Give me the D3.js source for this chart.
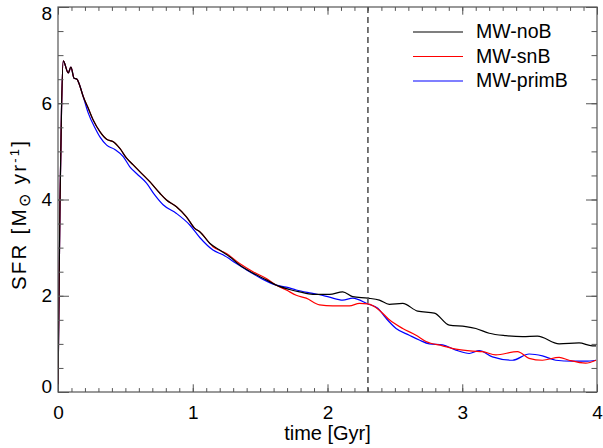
<!DOCTYPE html>
<html>
<head>
<meta charset="utf-8">
<script src="https://cdn.jsdelivr.net/npm/d3@7"></script>
<style>
  html, body { margin: 0; padding: 0; background: #fff; }
  svg { display: block; }
  text { font-family: "Liberation Sans", Arial, Helvetica, sans-serif; fill: #000; }
</style>
</head>
<body>
<script>
// Star formation rate histories for the three Milky Way runs
const seriesNames = ["MW-noB", "MW-snB", "MW-primB"];
const seriesColors = ["#000000", "#ff0000", "#0000ff"];

const tNoB = [0, 0.007, 0.015, 0.026, 0.039, 0.076, 0.096, 0.119, 0.141, 0.156, 0.187, 0.224, 0.261, 0.311, 0.361, 0.410, 0.459, 0.509, 0.558, 0.607, 0.681, 0.756, 0.805, 0.879, 0.953, 1.015, 1.052, 1.126, 1.200, 1.274, 1.348, 1.447, 1.546, 1.620, 1.719, 1.793, 1.891, 2.015, 2.113, 2.187, 2.299, 2.385, 2.459, 2.558, 2.669, 2.793, 2.904, 3.027, 3.101, 3.200, 3.324, 3.447, 3.558, 3.719, 3.867, 3.965, 3.993];
const sfrNoB = [0, 1.91, 3.99, 5.86, 6.88, 6.63, 6.75, 6.52, 6.50, 6.41, 6.14, 5.90, 5.65, 5.41, 5.25, 5.20, 5.06, 4.86, 4.72, 4.58, 4.37, 4.13, 3.99, 3.85, 3.64, 3.40, 3.33, 3.09, 2.95, 2.81, 2.64, 2.47, 2.33, 2.22, 2.13, 2.08, 2.03, 2.03, 2.08, 1.98, 1.95, 1.91, 1.82, 1.84, 1.68, 1.64, 1.39, 1.36, 1.32, 1.22, 1.17, 1.15, 1.16, 1.00, 1.02, 0.96, 0.96];

const tSnB = [0, 0.007, 0.015, 0.026, 0.039, 0.076, 0.096, 0.119, 0.141, 0.156, 0.187, 0.224, 0.261, 0.311, 0.361, 0.410, 0.459, 0.509, 0.558, 0.607, 0.681, 0.756, 0.805, 0.879, 0.953, 1.015, 1.052, 1.150, 1.250, 1.348, 1.447, 1.546, 1.620, 1.694, 1.768, 1.842, 1.941, 2.039, 2.163, 2.237, 2.299, 2.385, 2.459, 2.558, 2.657, 2.731, 2.854, 2.953, 3.076, 3.150, 3.249, 3.410, 3.496, 3.595, 3.719, 3.793, 3.916, 3.993];
const sfrSnB = [0, 1.91, 3.99, 5.86, 6.88, 6.63, 6.75, 6.52, 6.50, 6.41, 6.14, 5.90, 5.65, 5.41, 5.25, 5.20, 5.06, 4.86, 4.72, 4.58, 4.37, 4.13, 3.99, 3.85, 3.64, 3.40, 3.33, 3.02, 2.88, 2.67, 2.50, 2.36, 2.22, 2.12, 2.01, 1.95, 1.81, 1.79, 1.79, 1.84, 1.83, 1.70, 1.50, 1.32, 1.18, 1.05, 0.96, 0.89, 0.85, 0.84, 0.77, 0.84, 0.70, 0.66, 0.72, 0.66, 0.60, 0.66];

const tPrimB = [0, 0.007, 0.015, 0.026, 0.039, 0.076, 0.096, 0.119, 0.141, 0.156, 0.187, 0.224, 0.274, 0.311, 0.361, 0.422, 0.484, 0.533, 0.583, 0.657, 0.719, 0.780, 0.879, 0.978, 1.052, 1.150, 1.224, 1.324, 1.422, 1.521, 1.620, 1.694, 1.768, 1.867, 1.941, 2.015, 2.113, 2.187, 2.299, 2.373, 2.435, 2.509, 2.607, 2.681, 2.756, 2.854, 2.953, 3.052, 3.126, 3.224, 3.373, 3.496, 3.595, 3.694, 3.817, 3.916, 3.993];
const sfrPrimB = [0, 1.91, 3.99, 5.86, 6.88, 6.63, 6.75, 6.52, 6.50, 6.41, 6.14, 5.80, 5.49, 5.30, 5.13, 5.04, 4.89, 4.68, 4.54, 4.34, 4.09, 3.89, 3.71, 3.47, 3.21, 2.95, 2.85, 2.67, 2.50, 2.34, 2.22, 2.18, 2.12, 2.06, 2.02, 1.97, 1.91, 1.95, 1.83, 1.74, 1.53, 1.32, 1.18, 1.08, 1.00, 0.98, 0.87, 0.80, 0.86, 0.73, 0.66, 0.79, 0.75, 0.66, 0.64, 0.64, 0.66];

const xTicks = [0, 1, 2, 3, 4];
const yTicks = [0, 2, 4, 6, 8];
const markerTime = 2.3;

const W = 603, H = 448;
const margin = { top: 7, right: 6, bottom: 56, left: 58 };
const iw = W - margin.left - margin.right;
const ih = H - margin.top - margin.bottom;

const svg = d3.select("body").append("svg").attr("width", W).attr("height", H);
const g = svg.append("g").attr("transform", `translate(${margin.left},${margin.top})`);

const x = d3.scaleLinear().domain([0, 4]).range([0, iw]);
const y = d3.scaleLinear().domain([0, 8]).range([ih, 0]);

const series = [
  { name: seriesNames[0], color: seriesColors[0], t: tNoB, v: sfrNoB },
  { name: seriesNames[1], color: seriesColors[1], t: tSnB, v: sfrSnB },
  { name: seriesNames[2], color: seriesColors[2], t: tPrimB, v: sfrPrimB }
];

g.append("clipPath").attr("id", "plotclip")
  .append("rect").attr("width", iw).attr("height", ih);

const line = d3.line().x(d => x(d[0])).y(d => y(d[1])).curve(d3.curveMonotoneX);

// Draw order: primB, snB, then noB on top
[2, 1, 0].forEach(i => {
  const s = series[i];
  g.append("path")
    .datum(s.t.map((t, k) => [t, s.v[k]]))
    .attr("fill", "none")
    .attr("stroke", s.color)
    .attr("stroke-width", 1.2)
    .attr("clip-path", "url(#plotclip)")
    .attr("d", line);
});

// Vertical marker
g.append("line")
  .attr("x1", x(markerTime)).attr("x2", x(markerTime))
  .attr("y1", 0).attr("y2", ih)
  .attr("stroke", "#555").attr("stroke-width", 1.6)
  .attr("stroke-dasharray", "6,4");

// Axes: ticks point inward on all four sides
const axisColor = "#555";
const xMinor = d3.range(0, 4.0001, 0.1);
const yMinor = d3.range(0, 8.0001, 0.5);
const xMaj = 7.7, xMin = 3.9, yMaj = 11, yMin = 5.5;

function styleAxis(sel) {
  sel.select(".domain").remove();
  sel.selectAll(".tick line").attr("stroke", axisColor).attr("stroke-width", 1);
}

// bottom
g.append("g").attr("transform", `translate(0,${ih})`)
  .call(d3.axisBottom(x).tickValues(xMinor).tickSize(-xMin).tickFormat(""))
  .call(styleAxis);
const bx = g.append("g").attr("transform", `translate(0,${ih})`)
  .call(d3.axisBottom(x).tickValues(xTicks).tickSize(-xMaj).tickPadding(14).tickFormat(d3.format("d")))
  .call(styleAxis);
bx.selectAll(".tick text").style("font-size", "19px").attr("fill", "#000");
// top
g.append("g").call(d3.axisTop(x).tickValues(xMinor).tickSize(-xMin).tickFormat("")).call(styleAxis);
g.append("g").call(d3.axisTop(x).tickValues(xTicks).tickSize(-xMaj).tickFormat("")).call(styleAxis);
// left
g.append("g").call(d3.axisLeft(y).tickValues(yMinor).tickSize(-yMin).tickFormat("")).call(styleAxis);
const ly = g.append("g")
  .call(d3.axisLeft(y).tickValues(yTicks).tickSize(-yMaj).tickPadding(6).tickFormat(d3.format("d")))
  .call(styleAxis);
ly.selectAll(".tick text")
  .style("font-size", "19px").attr("fill", "#000").attr("x", -6)
  // end labels are nudged inside the axis range
  .attr("transform", d => d === 8 ? "translate(0,6)" : d === 0 ? "translate(0,-6)" : null);
// right
g.append("g").attr("transform", `translate(${iw},0)`)
  .call(d3.axisRight(y).tickValues(yMinor).tickSize(-yMin).tickFormat("")).call(styleAxis);
g.append("g").attr("transform", `translate(${iw},0)`)
  .call(d3.axisRight(y).tickValues(yTicks).tickSize(-yMaj).tickFormat("")).call(styleAxis);

// frame
g.append("rect").attr("width", iw).attr("height", ih)
  .attr("fill", "none").attr("stroke", axisColor).attr("stroke-width", 1.2);

// Axis titles
svg.append("text")
  .attr("x", margin.left + iw / 2).attr("y", 440)
  .attr("text-anchor", "middle")
  .style("font-size", "20px")
  .text("time [Gyr]");

const yl = svg.append("text")
  .attr("transform", "translate(26,290) rotate(-90)")
  .attr("textLength", 149).attr("lengthAdjust", "spacing")
  .style("font-size", "20.5px");
yl.append("tspan").text("SFR [M");
yl.append("tspan").attr("dy", 4).style("font-size", "16px").text("\u2299");
yl.append("tspan").attr("dy", -4).text(" yr");
yl.append("tspan").attr("dy", -7).style("font-size", "13px").text("-1");
yl.append("tspan").attr("dy", 7).text("]");

// Legend
const legend = svg.append("g");
series.forEach((s, i) => {
  const ly0 = 32 + i * 24.5;
  legend.append("line")
    .attr("x1", 413).attr("x2", 463).attr("y1", ly0).attr("y2", ly0)
    .attr("stroke", s.color).attr("stroke-width", 1.2);
  legend.append("text")
    .attr("x", 476).attr("y", ly0 + 6)
    .style("font-size", "19.5px")
    .text(s.name);
});
</script>
</body>
</html>
